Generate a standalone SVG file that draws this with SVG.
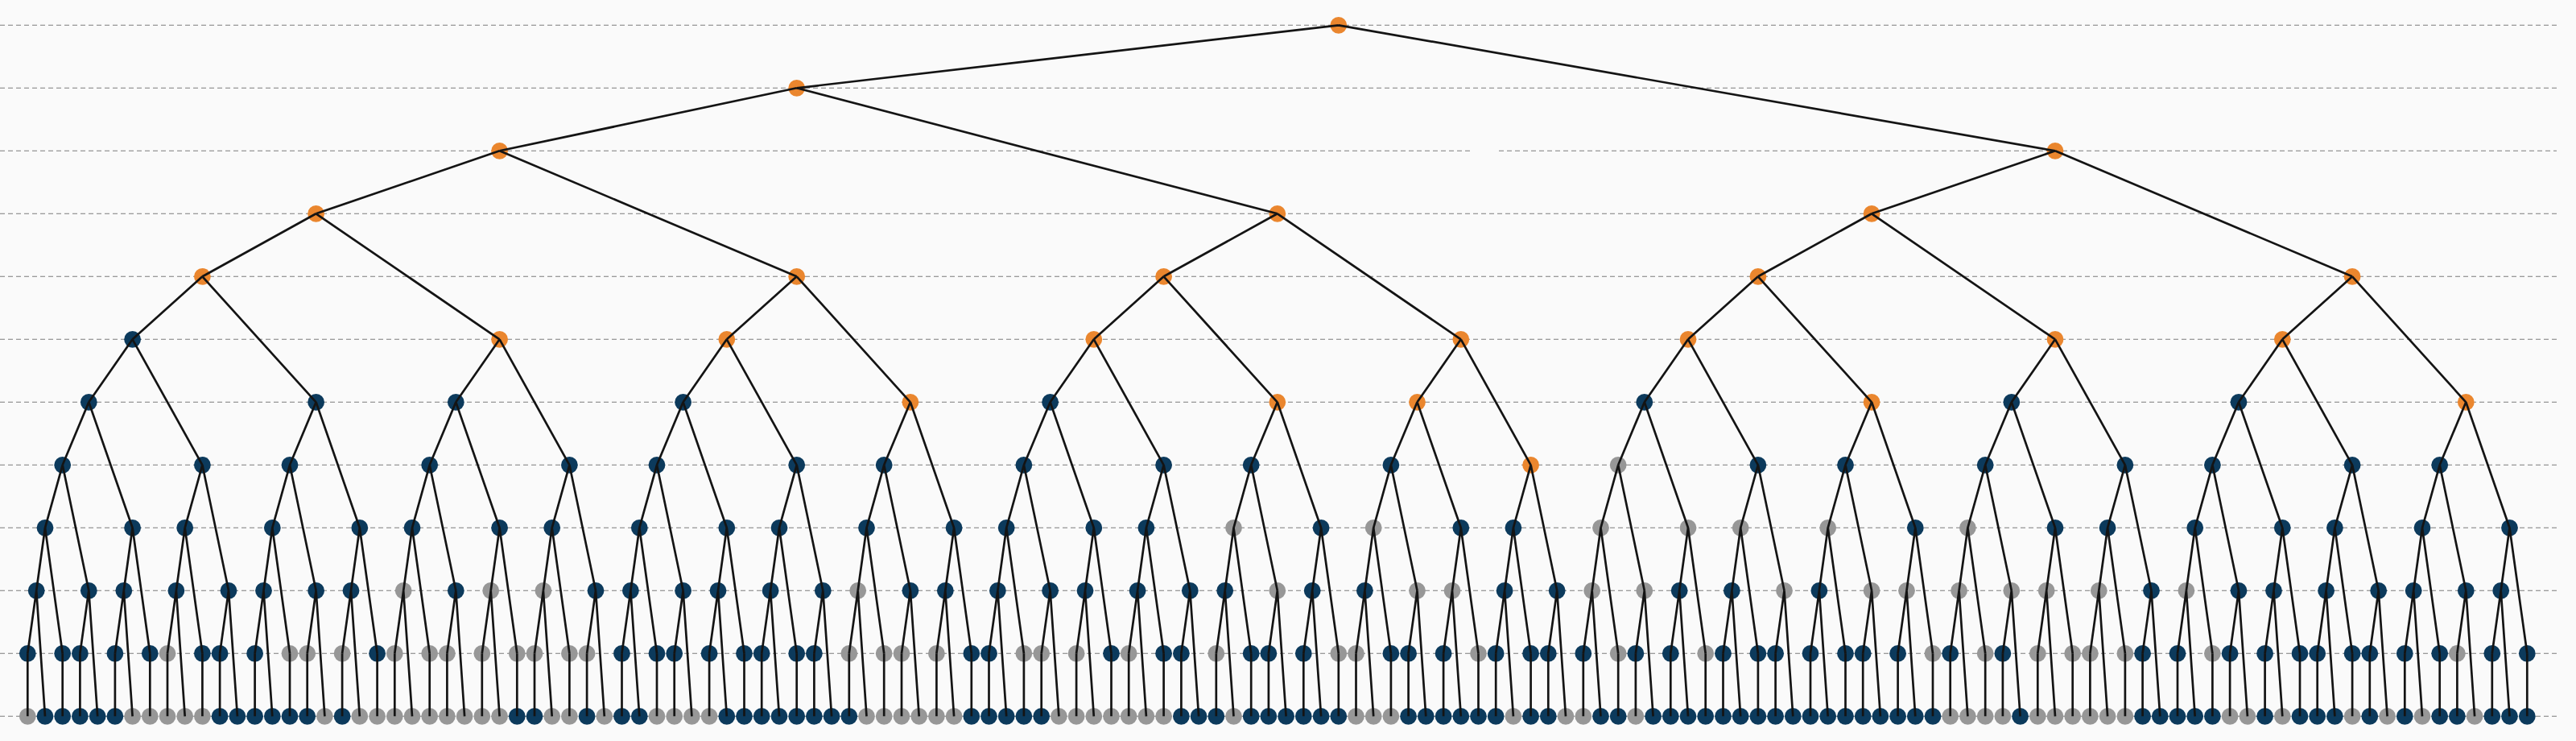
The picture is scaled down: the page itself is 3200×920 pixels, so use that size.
<svg xmlns="http://www.w3.org/2000/svg" width="3200" height="920" viewBox="0 0 3200 920">
<style>
.O{fill:#ea862e}.N{fill:#0c3a5c}.G{fill:#979797}
#grid line{stroke:#7c7c7c;stroke-width:1.1;stroke-dasharray:6 4}
#links path{stroke:#141414;stroke-width:2.7;fill:none}
</style>
<rect width="3200" height="920" fill="#fafafa"/>
<g id="grid">
<line x1="0" y1="31.3" x2="3176" y2="31.3"/>
<line x1="0" y1="109.3" x2="3176" y2="109.3"/>
<line x1="0" y1="187.3" x2="1826" y2="187.3"/>
<line x1="1862" y1="187.3" x2="3176" y2="187.3"/>
<line x1="0" y1="265.3" x2="3176" y2="265.3"/>
<line x1="0" y1="343.3" x2="3176" y2="343.3"/>
<line x1="0" y1="421.3" x2="3176" y2="421.3"/>
<line x1="0" y1="499.3" x2="3176" y2="499.3"/>
<line x1="0" y1="577.3" x2="3176" y2="577.3"/>
<line x1="0" y1="655.3" x2="3176" y2="655.3"/>
<line x1="0" y1="733.3" x2="3176" y2="733.3"/>
<line x1="0" y1="811.3" x2="3176" y2="811.3"/>
<line x1="0" y1="889.3" x2="3176" y2="889.3"/>
</g>
<g id="nodes">
<g id="n-root" class="O"><circle cx="1662.8" cy="31.3" r="10.4"/></g>
<g id="n-h10-0" class="O"><circle cx="989.7" cy="109.3" r="10.4"/></g>
<g id="n-h9-0" class="O"><circle cx="620.6" cy="187.3" r="10.4"/></g>
<g id="n-h9-89" class="O"><circle cx="2553" cy="187.3" r="10.4"/></g>
<g id="n-h8-0" class="O"><circle cx="392.6" cy="265.3" r="10.4"/></g>
<g id="n-h8-55" class="O"><circle cx="1586.8" cy="265.3" r="10.4"/></g>
<g id="n-h8-89" class="O"><circle cx="2325.1" cy="265.3" r="10.4"/></g>
<g id="n-h7-0" class="O"><circle cx="251.4" cy="343.3" r="10.4"/></g>
<g id="n-h7-34" class="O"><circle cx="989.7" cy="343.3" r="10.4"/></g>
<g id="n-h7-55" class="O"><circle cx="1445.6" cy="343.3" r="10.4"/></g>
<g id="n-h7-89" class="O"><circle cx="2183.9" cy="343.3" r="10.4"/></g>
<g id="n-h7-123" class="O"><circle cx="2922.1" cy="343.3" r="10.4"/></g>
<g id="n-h6-0" class="N"><circle cx="164.6" cy="421.3" r="10.4"/></g>
<g id="n-h6-21" class="O"><circle cx="620.6" cy="421.3" r="10.4"/></g>
<g id="n-h6-34" class="O"><circle cx="902.8" cy="421.3" r="10.4"/></g>
<g id="n-h6-55" class="O"><circle cx="1358.8" cy="421.3" r="10.4"/></g>
<g id="n-h6-76" class="O"><circle cx="1814.8" cy="421.3" r="10.4"/></g>
<g id="n-h6-89" class="O"><circle cx="2097" cy="421.3" r="10.4"/></g>
<g id="n-h6-110" class="O"><circle cx="2553" cy="421.3" r="10.4"/></g>
<g id="n-h6-123" class="O"><circle cx="2835.3" cy="421.3" r="10.4"/></g>
<g id="n-h5-0" class="N"><circle cx="110.3" cy="499.3" r="10.4"/></g>
<g id="n-h5-13" class="N"><circle cx="392.6" cy="499.3" r="10.4"/></g>
<g id="n-h5-21" class="N"><circle cx="566.3" cy="499.3" r="10.4"/></g>
<g id="n-h5-34" class="N"><circle cx="848.6" cy="499.3" r="10.4"/></g>
<g id="n-h5-47" class="O"><circle cx="1130.9" cy="499.3" r="10.4"/></g>
<g id="n-h5-55" class="N"><circle cx="1304.6" cy="499.3" r="10.4"/></g>
<g id="n-h5-68" class="O"><circle cx="1586.8" cy="499.3" r="10.4"/></g>
<g id="n-h5-76" class="O"><circle cx="1760.5" cy="499.3" r="10.4"/></g>
<g id="n-h5-89" class="N"><circle cx="2042.8" cy="499.3" r="10.4"/></g>
<g id="n-h5-102" class="O"><circle cx="2325.1" cy="499.3" r="10.4"/></g>
<g id="n-h5-110" class="N"><circle cx="2498.8" cy="499.3" r="10.4"/></g>
<g id="n-h5-123" class="N"><circle cx="2781" cy="499.3" r="10.4"/></g>
<g id="n-h5-136" class="O"><circle cx="3063.3" cy="499.3" r="10.4"/></g>
<g id="n-h4-0" class="N"><circle cx="77.7" cy="577.3" r="10.4"/></g>
<g id="n-h4-8" class="N"><circle cx="251.4" cy="577.3" r="10.4"/></g>
<g id="n-h4-13" class="N"><circle cx="360" cy="577.3" r="10.4"/></g>
<g id="n-h4-21" class="N"><circle cx="533.7" cy="577.3" r="10.4"/></g>
<g id="n-h4-29" class="N"><circle cx="707.4" cy="577.3" r="10.4"/></g>
<g id="n-h4-34" class="N"><circle cx="816" cy="577.3" r="10.4"/></g>
<g id="n-h4-42" class="N"><circle cx="989.7" cy="577.3" r="10.4"/></g>
<g id="n-h4-47" class="N"><circle cx="1098.2" cy="577.3" r="10.4"/></g>
<g id="n-h4-55" class="N"><circle cx="1271.9" cy="577.3" r="10.4"/></g>
<g id="n-h4-63" class="N"><circle cx="1445.6" cy="577.3" r="10.4"/></g>
<g id="n-h4-68" class="N"><circle cx="1554.2" cy="577.3" r="10.4"/></g>
<g id="n-h4-76" class="N"><circle cx="1727.9" cy="577.3" r="10.4"/></g>
<g id="n-h4-84" class="O"><circle cx="1901.6" cy="577.3" r="10.4"/></g>
<g id="n-h4-89" class="G"><circle cx="2010.2" cy="577.3" r="10.4"/></g>
<g id="n-h4-97" class="N"><circle cx="2183.9" cy="577.3" r="10.4"/></g>
<g id="n-h4-102" class="N"><circle cx="2292.5" cy="577.3" r="10.4"/></g>
<g id="n-h4-110" class="N"><circle cx="2466.2" cy="577.3" r="10.4"/></g>
<g id="n-h4-118" class="N"><circle cx="2639.9" cy="577.3" r="10.4"/></g>
<g id="n-h4-123" class="N"><circle cx="2748.4" cy="577.3" r="10.4"/></g>
<g id="n-h4-131" class="N"><circle cx="2922.1" cy="577.3" r="10.4"/></g>
<g id="n-h4-136" class="N"><circle cx="3030.7" cy="577.3" r="10.4"/></g>
<g id="n-h3-0" class="N"><circle cx="56" cy="655.3" r="10.4"/></g>
<g id="n-h3-5" class="N"><circle cx="164.6" cy="655.3" r="10.4"/></g>
<g id="n-h3-8" class="N"><circle cx="229.7" cy="655.3" r="10.4"/></g>
<g id="n-h3-13" class="N"><circle cx="338.3" cy="655.3" r="10.4"/></g>
<g id="n-h3-18" class="N"><circle cx="446.8" cy="655.3" r="10.4"/></g>
<g id="n-h3-21" class="N"><circle cx="512" cy="655.3" r="10.4"/></g>
<g id="n-h3-26" class="N"><circle cx="620.6" cy="655.3" r="10.4"/></g>
<g id="n-h3-29" class="N"><circle cx="685.7" cy="655.3" r="10.4"/></g>
<g id="n-h3-34" class="N"><circle cx="794.3" cy="655.3" r="10.4"/></g>
<g id="n-h3-39" class="N"><circle cx="902.8" cy="655.3" r="10.4"/></g>
<g id="n-h3-42" class="N"><circle cx="968" cy="655.3" r="10.4"/></g>
<g id="n-h3-47" class="N"><circle cx="1076.5" cy="655.3" r="10.4"/></g>
<g id="n-h3-52" class="N"><circle cx="1185.1" cy="655.3" r="10.4"/></g>
<g id="n-h3-55" class="N"><circle cx="1250.2" cy="655.3" r="10.4"/></g>
<g id="n-h3-60" class="N"><circle cx="1358.8" cy="655.3" r="10.4"/></g>
<g id="n-h3-63" class="N"><circle cx="1423.9" cy="655.3" r="10.4"/></g>
<g id="n-h3-68" class="G"><circle cx="1532.5" cy="655.3" r="10.4"/></g>
<g id="n-h3-73" class="N"><circle cx="1641.1" cy="655.3" r="10.4"/></g>
<g id="n-h3-76" class="G"><circle cx="1706.2" cy="655.3" r="10.4"/></g>
<g id="n-h3-81" class="N"><circle cx="1814.8" cy="655.3" r="10.4"/></g>
<g id="n-h3-84" class="N"><circle cx="1879.9" cy="655.3" r="10.4"/></g>
<g id="n-h3-89" class="G"><circle cx="1988.5" cy="655.3" r="10.4"/></g>
<g id="n-h3-94" class="G"><circle cx="2097" cy="655.3" r="10.4"/></g>
<g id="n-h3-97" class="G"><circle cx="2162.2" cy="655.3" r="10.4"/></g>
<g id="n-h3-102" class="G"><circle cx="2270.7" cy="655.3" r="10.4"/></g>
<g id="n-h3-107" class="N"><circle cx="2379.3" cy="655.3" r="10.4"/></g>
<g id="n-h3-110" class="G"><circle cx="2444.4" cy="655.3" r="10.4"/></g>
<g id="n-h3-115" class="N"><circle cx="2553" cy="655.3" r="10.4"/></g>
<g id="n-h3-118" class="N"><circle cx="2618.1" cy="655.3" r="10.4"/></g>
<g id="n-h3-123" class="N"><circle cx="2726.7" cy="655.3" r="10.4"/></g>
<g id="n-h3-128" class="N"><circle cx="2835.3" cy="655.3" r="10.4"/></g>
<g id="n-h3-131" class="N"><circle cx="2900.4" cy="655.3" r="10.4"/></g>
<g id="n-h3-136" class="N"><circle cx="3009" cy="655.3" r="10.4"/></g>
<g id="n-h3-141" class="N"><circle cx="3117.5" cy="655.3" r="10.4"/></g>
<g id="n-h2-0" class="N"><circle cx="45.2" cy="733.3" r="10.4"/></g>
<g id="n-h2-3" class="N"><circle cx="110.3" cy="733.3" r="10.4"/></g>
<g id="n-h2-5" class="N"><circle cx="153.8" cy="733.3" r="10.4"/></g>
<g id="n-h2-8" class="N"><circle cx="218.9" cy="733.3" r="10.4"/></g>
<g id="n-h2-11" class="N"><circle cx="284" cy="733.3" r="10.4"/></g>
<g id="n-h2-13" class="N"><circle cx="327.5" cy="733.3" r="10.4"/></g>
<g id="n-h2-16" class="N"><circle cx="392.6" cy="733.3" r="10.4"/></g>
<g id="n-h2-18" class="N"><circle cx="436" cy="733.3" r="10.4"/></g>
<g id="n-h2-21" class="G"><circle cx="501.2" cy="733.3" r="10.4"/></g>
<g id="n-h2-24" class="N"><circle cx="566.3" cy="733.3" r="10.4"/></g>
<g id="n-h2-26" class="G"><circle cx="609.7" cy="733.3" r="10.4"/></g>
<g id="n-h2-29" class="G"><circle cx="674.9" cy="733.3" r="10.4"/></g>
<g id="n-h2-32" class="N"><circle cx="740" cy="733.3" r="10.4"/></g>
<g id="n-h2-34" class="N"><circle cx="783.4" cy="733.3" r="10.4"/></g>
<g id="n-h2-37" class="N"><circle cx="848.6" cy="733.3" r="10.4"/></g>
<g id="n-h2-39" class="N"><circle cx="892" cy="733.3" r="10.4"/></g>
<g id="n-h2-42" class="N"><circle cx="957.1" cy="733.3" r="10.4"/></g>
<g id="n-h2-45" class="N"><circle cx="1022.3" cy="733.3" r="10.4"/></g>
<g id="n-h2-47" class="G"><circle cx="1065.7" cy="733.3" r="10.4"/></g>
<g id="n-h2-50" class="N"><circle cx="1130.9" cy="733.3" r="10.4"/></g>
<g id="n-h2-52" class="N"><circle cx="1174.3" cy="733.3" r="10.4"/></g>
<g id="n-h2-55" class="N"><circle cx="1239.4" cy="733.3" r="10.4"/></g>
<g id="n-h2-58" class="N"><circle cx="1304.6" cy="733.3" r="10.4"/></g>
<g id="n-h2-60" class="N"><circle cx="1348" cy="733.3" r="10.4"/></g>
<g id="n-h2-63" class="N"><circle cx="1413.1" cy="733.3" r="10.4"/></g>
<g id="n-h2-66" class="N"><circle cx="1478.3" cy="733.3" r="10.4"/></g>
<g id="n-h2-68" class="N"><circle cx="1521.7" cy="733.3" r="10.4"/></g>
<g id="n-h2-71" class="G"><circle cx="1586.8" cy="733.3" r="10.4"/></g>
<g id="n-h2-73" class="N"><circle cx="1630.2" cy="733.3" r="10.4"/></g>
<g id="n-h2-76" class="N"><circle cx="1695.4" cy="733.3" r="10.4"/></g>
<g id="n-h2-79" class="G"><circle cx="1760.5" cy="733.3" r="10.4"/></g>
<g id="n-h2-81" class="G"><circle cx="1804" cy="733.3" r="10.4"/></g>
<g id="n-h2-84" class="N"><circle cx="1869.1" cy="733.3" r="10.4"/></g>
<g id="n-h2-87" class="N"><circle cx="1934.2" cy="733.3" r="10.4"/></g>
<g id="n-h2-89" class="G"><circle cx="1977.7" cy="733.3" r="10.4"/></g>
<g id="n-h2-92" class="G"><circle cx="2042.8" cy="733.3" r="10.4"/></g>
<g id="n-h2-94" class="N"><circle cx="2086.2" cy="733.3" r="10.4"/></g>
<g id="n-h2-97" class="N"><circle cx="2151.4" cy="733.3" r="10.4"/></g>
<g id="n-h2-100" class="G"><circle cx="2216.5" cy="733.3" r="10.4"/></g>
<g id="n-h2-102" class="N"><circle cx="2259.9" cy="733.3" r="10.4"/></g>
<g id="n-h2-105" class="G"><circle cx="2325.1" cy="733.3" r="10.4"/></g>
<g id="n-h2-107" class="G"><circle cx="2368.5" cy="733.3" r="10.4"/></g>
<g id="n-h2-110" class="G"><circle cx="2433.6" cy="733.3" r="10.4"/></g>
<g id="n-h2-113" class="G"><circle cx="2498.8" cy="733.3" r="10.4"/></g>
<g id="n-h2-115" class="G"><circle cx="2542.2" cy="733.3" r="10.4"/></g>
<g id="n-h2-118" class="G"><circle cx="2607.3" cy="733.3" r="10.4"/></g>
<g id="n-h2-121" class="N"><circle cx="2672.5" cy="733.3" r="10.4"/></g>
<g id="n-h2-123" class="G"><circle cx="2715.9" cy="733.3" r="10.4"/></g>
<g id="n-h2-126" class="N"><circle cx="2781" cy="733.3" r="10.4"/></g>
<g id="n-h2-128" class="N"><circle cx="2824.5" cy="733.3" r="10.4"/></g>
<g id="n-h2-131" class="N"><circle cx="2889.6" cy="733.3" r="10.4"/></g>
<g id="n-h2-134" class="N"><circle cx="2954.7" cy="733.3" r="10.4"/></g>
<g id="n-h2-136" class="N"><circle cx="2998.2" cy="733.3" r="10.4"/></g>
<g id="n-h2-139" class="N"><circle cx="3063.3" cy="733.3" r="10.4"/></g>
<g id="n-h2-141" class="N"><circle cx="3106.7" cy="733.3" r="10.4"/></g>
<g id="n-h1-0" class="N"><circle cx="34.3" cy="811.3" r="10.4"/></g>
<g id="n-h1-2" class="N"><circle cx="77.7" cy="811.3" r="10.4"/></g>
<g id="n-h1-3" class="N"><circle cx="99.4" cy="811.3" r="10.4"/></g>
<g id="n-h1-5" class="N"><circle cx="142.9" cy="811.3" r="10.4"/></g>
<g id="n-h1-7" class="N"><circle cx="186.3" cy="811.3" r="10.4"/></g>
<g id="n-h1-8" class="G"><circle cx="208" cy="811.3" r="10.4"/></g>
<g id="n-h1-10" class="N"><circle cx="251.4" cy="811.3" r="10.4"/></g>
<g id="n-h1-11" class="N"><circle cx="273.1" cy="811.3" r="10.4"/></g>
<g id="n-h1-13" class="N"><circle cx="316.6" cy="811.3" r="10.4"/></g>
<g id="n-h1-15" class="G"><circle cx="360" cy="811.3" r="10.4"/></g>
<g id="n-h1-16" class="G"><circle cx="381.7" cy="811.3" r="10.4"/></g>
<g id="n-h1-18" class="G"><circle cx="425.1" cy="811.3" r="10.4"/></g>
<g id="n-h1-20" class="N"><circle cx="468.6" cy="811.3" r="10.4"/></g>
<g id="n-h1-21" class="G"><circle cx="490.3" cy="811.3" r="10.4"/></g>
<g id="n-h1-23" class="G"><circle cx="533.7" cy="811.3" r="10.4"/></g>
<g id="n-h1-24" class="G"><circle cx="555.4" cy="811.3" r="10.4"/></g>
<g id="n-h1-26" class="G"><circle cx="598.8" cy="811.3" r="10.4"/></g>
<g id="n-h1-28" class="G"><circle cx="642.3" cy="811.3" r="10.4"/></g>
<g id="n-h1-29" class="G"><circle cx="664" cy="811.3" r="10.4"/></g>
<g id="n-h1-31" class="G"><circle cx="707.4" cy="811.3" r="10.4"/></g>
<g id="n-h1-32" class="G"><circle cx="729.1" cy="811.3" r="10.4"/></g>
<g id="n-h1-34" class="N"><circle cx="772.5" cy="811.3" r="10.4"/></g>
<g id="n-h1-36" class="N"><circle cx="816" cy="811.3" r="10.4"/></g>
<g id="n-h1-37" class="N"><circle cx="837.7" cy="811.3" r="10.4"/></g>
<g id="n-h1-39" class="N"><circle cx="881.1" cy="811.3" r="10.4"/></g>
<g id="n-h1-41" class="N"><circle cx="924.5" cy="811.3" r="10.4"/></g>
<g id="n-h1-42" class="N"><circle cx="946.2" cy="811.3" r="10.4"/></g>
<g id="n-h1-44" class="N"><circle cx="989.7" cy="811.3" r="10.4"/></g>
<g id="n-h1-45" class="N"><circle cx="1011.4" cy="811.3" r="10.4"/></g>
<g id="n-h1-47" class="G"><circle cx="1054.8" cy="811.3" r="10.4"/></g>
<g id="n-h1-49" class="G"><circle cx="1098.2" cy="811.3" r="10.4"/></g>
<g id="n-h1-50" class="G"><circle cx="1120" cy="811.3" r="10.4"/></g>
<g id="n-h1-52" class="G"><circle cx="1163.4" cy="811.3" r="10.4"/></g>
<g id="n-h1-54" class="N"><circle cx="1206.8" cy="811.3" r="10.4"/></g>
<g id="n-h1-55" class="N"><circle cx="1228.5" cy="811.3" r="10.4"/></g>
<g id="n-h1-57" class="G"><circle cx="1271.9" cy="811.3" r="10.4"/></g>
<g id="n-h1-58" class="G"><circle cx="1293.7" cy="811.3" r="10.4"/></g>
<g id="n-h1-60" class="G"><circle cx="1337.1" cy="811.3" r="10.4"/></g>
<g id="n-h1-62" class="N"><circle cx="1380.5" cy="811.3" r="10.4"/></g>
<g id="n-h1-63" class="G"><circle cx="1402.2" cy="811.3" r="10.4"/></g>
<g id="n-h1-65" class="N"><circle cx="1445.6" cy="811.3" r="10.4"/></g>
<g id="n-h1-66" class="N"><circle cx="1467.4" cy="811.3" r="10.4"/></g>
<g id="n-h1-68" class="G"><circle cx="1510.8" cy="811.3" r="10.4"/></g>
<g id="n-h1-70" class="N"><circle cx="1554.2" cy="811.3" r="10.4"/></g>
<g id="n-h1-71" class="N"><circle cx="1575.9" cy="811.3" r="10.4"/></g>
<g id="n-h1-73" class="N"><circle cx="1619.3" cy="811.3" r="10.4"/></g>
<g id="n-h1-75" class="G"><circle cx="1662.8" cy="811.3" r="10.4"/></g>
<g id="n-h1-76" class="G"><circle cx="1684.5" cy="811.3" r="10.4"/></g>
<g id="n-h1-78" class="N"><circle cx="1727.9" cy="811.3" r="10.4"/></g>
<g id="n-h1-79" class="N"><circle cx="1749.6" cy="811.3" r="10.4"/></g>
<g id="n-h1-81" class="N"><circle cx="1793.1" cy="811.3" r="10.4"/></g>
<g id="n-h1-83" class="G"><circle cx="1836.5" cy="811.3" r="10.4"/></g>
<g id="n-h1-84" class="N"><circle cx="1858.2" cy="811.3" r="10.4"/></g>
<g id="n-h1-86" class="N"><circle cx="1901.6" cy="811.3" r="10.4"/></g>
<g id="n-h1-87" class="N"><circle cx="1923.3" cy="811.3" r="10.4"/></g>
<g id="n-h1-89" class="N"><circle cx="1966.8" cy="811.3" r="10.4"/></g>
<g id="n-h1-91" class="G"><circle cx="2010.2" cy="811.3" r="10.4"/></g>
<g id="n-h1-92" class="N"><circle cx="2031.9" cy="811.3" r="10.4"/></g>
<g id="n-h1-94" class="N"><circle cx="2075.3" cy="811.3" r="10.4"/></g>
<g id="n-h1-96" class="G"><circle cx="2118.7" cy="811.3" r="10.4"/></g>
<g id="n-h1-97" class="N"><circle cx="2140.5" cy="811.3" r="10.4"/></g>
<g id="n-h1-99" class="N"><circle cx="2183.9" cy="811.3" r="10.4"/></g>
<g id="n-h1-100" class="N"><circle cx="2205.6" cy="811.3" r="10.4"/></g>
<g id="n-h1-102" class="N"><circle cx="2249" cy="811.3" r="10.4"/></g>
<g id="n-h1-104" class="N"><circle cx="2292.5" cy="811.3" r="10.4"/></g>
<g id="n-h1-105" class="N"><circle cx="2314.2" cy="811.3" r="10.4"/></g>
<g id="n-h1-107" class="N"><circle cx="2357.6" cy="811.3" r="10.4"/></g>
<g id="n-h1-109" class="G"><circle cx="2401" cy="811.3" r="10.4"/></g>
<g id="n-h1-110" class="N"><circle cx="2422.7" cy="811.3" r="10.4"/></g>
<g id="n-h1-112" class="G"><circle cx="2466.2" cy="811.3" r="10.4"/></g>
<g id="n-h1-113" class="N"><circle cx="2487.9" cy="811.3" r="10.4"/></g>
<g id="n-h1-115" class="G"><circle cx="2531.3" cy="811.3" r="10.4"/></g>
<g id="n-h1-117" class="G"><circle cx="2574.7" cy="811.3" r="10.4"/></g>
<g id="n-h1-118" class="G"><circle cx="2596.4" cy="811.3" r="10.4"/></g>
<g id="n-h1-120" class="G"><circle cx="2639.9" cy="811.3" r="10.4"/></g>
<g id="n-h1-121" class="N"><circle cx="2661.6" cy="811.3" r="10.4"/></g>
<g id="n-h1-123" class="N"><circle cx="2705" cy="811.3" r="10.4"/></g>
<g id="n-h1-125" class="G"><circle cx="2748.4" cy="811.3" r="10.4"/></g>
<g id="n-h1-126" class="N"><circle cx="2770.1" cy="811.3" r="10.4"/></g>
<g id="n-h1-128" class="N"><circle cx="2813.6" cy="811.3" r="10.4"/></g>
<g id="n-h1-130" class="N"><circle cx="2857" cy="811.3" r="10.4"/></g>
<g id="n-h1-131" class="N"><circle cx="2878.7" cy="811.3" r="10.4"/></g>
<g id="n-h1-133" class="N"><circle cx="2922.1" cy="811.3" r="10.4"/></g>
<g id="n-h1-134" class="N"><circle cx="2943.8" cy="811.3" r="10.4"/></g>
<g id="n-h1-136" class="N"><circle cx="2987.3" cy="811.3" r="10.4"/></g>
<g id="n-h1-138" class="N"><circle cx="3030.7" cy="811.3" r="10.4"/></g>
<g id="n-h1-139" class="G"><circle cx="3052.4" cy="811.3" r="10.4"/></g>
<g id="n-h1-141" class="N"><circle cx="3095.8" cy="811.3" r="10.4"/></g>
<g id="n-h1-143" class="N"><circle cx="3139.3" cy="811.3" r="10.4"/></g>
<g id="n-leaf-0" class="G"><circle cx="34.3" cy="889.3" r="10.4"/></g>
<g id="n-leaf-1" class="N"><circle cx="56" cy="889.3" r="10.4"/></g>
<g id="n-leaf-2" class="N"><circle cx="77.7" cy="889.3" r="10.4"/></g>
<g id="n-leaf-3" class="N"><circle cx="99.4" cy="889.3" r="10.4"/></g>
<g id="n-leaf-4" class="N"><circle cx="121.2" cy="889.3" r="10.4"/></g>
<g id="n-leaf-5" class="N"><circle cx="142.9" cy="889.3" r="10.4"/></g>
<g id="n-leaf-6" class="G"><circle cx="164.6" cy="889.3" r="10.4"/></g>
<g id="n-leaf-7" class="G"><circle cx="186.3" cy="889.3" r="10.4"/></g>
<g id="n-leaf-8" class="G"><circle cx="208" cy="889.3" r="10.4"/></g>
<g id="n-leaf-9" class="G"><circle cx="229.7" cy="889.3" r="10.4"/></g>
<g id="n-leaf-10" class="G"><circle cx="251.4" cy="889.3" r="10.4"/></g>
<g id="n-leaf-11" class="N"><circle cx="273.1" cy="889.3" r="10.4"/></g>
<g id="n-leaf-12" class="N"><circle cx="294.9" cy="889.3" r="10.4"/></g>
<g id="n-leaf-13" class="N"><circle cx="316.6" cy="889.3" r="10.4"/></g>
<g id="n-leaf-14" class="N"><circle cx="338.3" cy="889.3" r="10.4"/></g>
<g id="n-leaf-15" class="N"><circle cx="360" cy="889.3" r="10.4"/></g>
<g id="n-leaf-16" class="N"><circle cx="381.7" cy="889.3" r="10.4"/></g>
<g id="n-leaf-17" class="G"><circle cx="403.4" cy="889.3" r="10.4"/></g>
<g id="n-leaf-18" class="N"><circle cx="425.1" cy="889.3" r="10.4"/></g>
<g id="n-leaf-19" class="G"><circle cx="446.8" cy="889.3" r="10.4"/></g>
<g id="n-leaf-20" class="G"><circle cx="468.6" cy="889.3" r="10.4"/></g>
<g id="n-leaf-21" class="G"><circle cx="490.3" cy="889.3" r="10.4"/></g>
<g id="n-leaf-22" class="G"><circle cx="512" cy="889.3" r="10.4"/></g>
<g id="n-leaf-23" class="G"><circle cx="533.7" cy="889.3" r="10.4"/></g>
<g id="n-leaf-24" class="G"><circle cx="555.4" cy="889.3" r="10.4"/></g>
<g id="n-leaf-25" class="G"><circle cx="577.1" cy="889.3" r="10.4"/></g>
<g id="n-leaf-26" class="G"><circle cx="598.8" cy="889.3" r="10.4"/></g>
<g id="n-leaf-27" class="G"><circle cx="620.6" cy="889.3" r="10.4"/></g>
<g id="n-leaf-28" class="N"><circle cx="642.3" cy="889.3" r="10.4"/></g>
<g id="n-leaf-29" class="N"><circle cx="664" cy="889.3" r="10.4"/></g>
<g id="n-leaf-30" class="G"><circle cx="685.7" cy="889.3" r="10.4"/></g>
<g id="n-leaf-31" class="G"><circle cx="707.4" cy="889.3" r="10.4"/></g>
<g id="n-leaf-32" class="N"><circle cx="729.1" cy="889.3" r="10.4"/></g>
<g id="n-leaf-33" class="G"><circle cx="750.8" cy="889.3" r="10.4"/></g>
<g id="n-leaf-34" class="N"><circle cx="772.5" cy="889.3" r="10.4"/></g>
<g id="n-leaf-35" class="N"><circle cx="794.3" cy="889.3" r="10.4"/></g>
<g id="n-leaf-36" class="G"><circle cx="816" cy="889.3" r="10.4"/></g>
<g id="n-leaf-37" class="G"><circle cx="837.7" cy="889.3" r="10.4"/></g>
<g id="n-leaf-38" class="G"><circle cx="859.4" cy="889.3" r="10.4"/></g>
<g id="n-leaf-39" class="G"><circle cx="881.1" cy="889.3" r="10.4"/></g>
<g id="n-leaf-40" class="N"><circle cx="902.8" cy="889.3" r="10.4"/></g>
<g id="n-leaf-41" class="N"><circle cx="924.5" cy="889.3" r="10.4"/></g>
<g id="n-leaf-42" class="N"><circle cx="946.2" cy="889.3" r="10.4"/></g>
<g id="n-leaf-43" class="N"><circle cx="968" cy="889.3" r="10.4"/></g>
<g id="n-leaf-44" class="N"><circle cx="989.7" cy="889.3" r="10.4"/></g>
<g id="n-leaf-45" class="N"><circle cx="1011.4" cy="889.3" r="10.4"/></g>
<g id="n-leaf-46" class="N"><circle cx="1033.1" cy="889.3" r="10.4"/></g>
<g id="n-leaf-47" class="N"><circle cx="1054.8" cy="889.3" r="10.4"/></g>
<g id="n-leaf-48" class="G"><circle cx="1076.5" cy="889.3" r="10.4"/></g>
<g id="n-leaf-49" class="G"><circle cx="1098.2" cy="889.3" r="10.4"/></g>
<g id="n-leaf-50" class="G"><circle cx="1120" cy="889.3" r="10.4"/></g>
<g id="n-leaf-51" class="G"><circle cx="1141.7" cy="889.3" r="10.4"/></g>
<g id="n-leaf-52" class="G"><circle cx="1163.4" cy="889.3" r="10.4"/></g>
<g id="n-leaf-53" class="G"><circle cx="1185.1" cy="889.3" r="10.4"/></g>
<g id="n-leaf-54" class="N"><circle cx="1206.8" cy="889.3" r="10.4"/></g>
<g id="n-leaf-55" class="N"><circle cx="1228.5" cy="889.3" r="10.4"/></g>
<g id="n-leaf-56" class="N"><circle cx="1250.2" cy="889.3" r="10.4"/></g>
<g id="n-leaf-57" class="N"><circle cx="1271.9" cy="889.3" r="10.4"/></g>
<g id="n-leaf-58" class="N"><circle cx="1293.7" cy="889.3" r="10.4"/></g>
<g id="n-leaf-59" class="G"><circle cx="1315.4" cy="889.3" r="10.4"/></g>
<g id="n-leaf-60" class="G"><circle cx="1337.1" cy="889.3" r="10.4"/></g>
<g id="n-leaf-61" class="G"><circle cx="1358.8" cy="889.3" r="10.4"/></g>
<g id="n-leaf-62" class="G"><circle cx="1380.5" cy="889.3" r="10.4"/></g>
<g id="n-leaf-63" class="G"><circle cx="1402.2" cy="889.3" r="10.4"/></g>
<g id="n-leaf-64" class="G"><circle cx="1423.9" cy="889.3" r="10.4"/></g>
<g id="n-leaf-65" class="G"><circle cx="1445.6" cy="889.3" r="10.4"/></g>
<g id="n-leaf-66" class="N"><circle cx="1467.4" cy="889.3" r="10.4"/></g>
<g id="n-leaf-67" class="N"><circle cx="1489.1" cy="889.3" r="10.4"/></g>
<g id="n-leaf-68" class="N"><circle cx="1510.8" cy="889.3" r="10.4"/></g>
<g id="n-leaf-69" class="G"><circle cx="1532.5" cy="889.3" r="10.4"/></g>
<g id="n-leaf-70" class="N"><circle cx="1554.2" cy="889.3" r="10.4"/></g>
<g id="n-leaf-71" class="N"><circle cx="1575.9" cy="889.3" r="10.4"/></g>
<g id="n-leaf-72" class="N"><circle cx="1597.6" cy="889.3" r="10.4"/></g>
<g id="n-leaf-73" class="N"><circle cx="1619.3" cy="889.3" r="10.4"/></g>
<g id="n-leaf-74" class="N"><circle cx="1641.1" cy="889.3" r="10.4"/></g>
<g id="n-leaf-75" class="N"><circle cx="1662.8" cy="889.3" r="10.4"/></g>
<g id="n-leaf-76" class="G"><circle cx="1684.5" cy="889.3" r="10.4"/></g>
<g id="n-leaf-77" class="G"><circle cx="1706.2" cy="889.3" r="10.4"/></g>
<g id="n-leaf-78" class="G"><circle cx="1727.9" cy="889.3" r="10.4"/></g>
<g id="n-leaf-79" class="N"><circle cx="1749.6" cy="889.3" r="10.4"/></g>
<g id="n-leaf-80" class="N"><circle cx="1771.3" cy="889.3" r="10.4"/></g>
<g id="n-leaf-81" class="N"><circle cx="1793.1" cy="889.3" r="10.4"/></g>
<g id="n-leaf-82" class="N"><circle cx="1814.8" cy="889.3" r="10.4"/></g>
<g id="n-leaf-83" class="N"><circle cx="1836.5" cy="889.3" r="10.4"/></g>
<g id="n-leaf-84" class="N"><circle cx="1858.2" cy="889.3" r="10.4"/></g>
<g id="n-leaf-85" class="G"><circle cx="1879.9" cy="889.3" r="10.4"/></g>
<g id="n-leaf-86" class="N"><circle cx="1901.6" cy="889.3" r="10.4"/></g>
<g id="n-leaf-87" class="N"><circle cx="1923.3" cy="889.3" r="10.4"/></g>
<g id="n-leaf-88" class="G"><circle cx="1945" cy="889.3" r="10.4"/></g>
<g id="n-leaf-89" class="G"><circle cx="1966.8" cy="889.3" r="10.4"/></g>
<g id="n-leaf-90" class="N"><circle cx="1988.5" cy="889.3" r="10.4"/></g>
<g id="n-leaf-91" class="N"><circle cx="2010.2" cy="889.3" r="10.4"/></g>
<g id="n-leaf-92" class="G"><circle cx="2031.9" cy="889.3" r="10.4"/></g>
<g id="n-leaf-93" class="N"><circle cx="2053.6" cy="889.3" r="10.4"/></g>
<g id="n-leaf-94" class="N"><circle cx="2075.3" cy="889.3" r="10.4"/></g>
<g id="n-leaf-95" class="N"><circle cx="2097" cy="889.3" r="10.4"/></g>
<g id="n-leaf-96" class="N"><circle cx="2118.7" cy="889.3" r="10.4"/></g>
<g id="n-leaf-97" class="N"><circle cx="2140.5" cy="889.3" r="10.4"/></g>
<g id="n-leaf-98" class="N"><circle cx="2162.2" cy="889.3" r="10.4"/></g>
<g id="n-leaf-99" class="N"><circle cx="2183.9" cy="889.3" r="10.4"/></g>
<g id="n-leaf-100" class="N"><circle cx="2205.6" cy="889.3" r="10.4"/></g>
<g id="n-leaf-101" class="N"><circle cx="2227.3" cy="889.3" r="10.4"/></g>
<g id="n-leaf-102" class="N"><circle cx="2249" cy="889.3" r="10.4"/></g>
<g id="n-leaf-103" class="N"><circle cx="2270.7" cy="889.3" r="10.4"/></g>
<g id="n-leaf-104" class="N"><circle cx="2292.5" cy="889.3" r="10.4"/></g>
<g id="n-leaf-105" class="N"><circle cx="2314.2" cy="889.3" r="10.4"/></g>
<g id="n-leaf-106" class="N"><circle cx="2335.9" cy="889.3" r="10.4"/></g>
<g id="n-leaf-107" class="N"><circle cx="2357.6" cy="889.3" r="10.4"/></g>
<g id="n-leaf-108" class="N"><circle cx="2379.3" cy="889.3" r="10.4"/></g>
<g id="n-leaf-109" class="N"><circle cx="2401" cy="889.3" r="10.4"/></g>
<g id="n-leaf-110" class="G"><circle cx="2422.7" cy="889.3" r="10.4"/></g>
<g id="n-leaf-111" class="G"><circle cx="2444.4" cy="889.3" r="10.4"/></g>
<g id="n-leaf-112" class="G"><circle cx="2466.2" cy="889.3" r="10.4"/></g>
<g id="n-leaf-113" class="G"><circle cx="2487.9" cy="889.3" r="10.4"/></g>
<g id="n-leaf-114" class="N"><circle cx="2509.6" cy="889.3" r="10.4"/></g>
<g id="n-leaf-115" class="G"><circle cx="2531.3" cy="889.3" r="10.4"/></g>
<g id="n-leaf-116" class="G"><circle cx="2553" cy="889.3" r="10.4"/></g>
<g id="n-leaf-117" class="G"><circle cx="2574.7" cy="889.3" r="10.4"/></g>
<g id="n-leaf-118" class="G"><circle cx="2596.4" cy="889.3" r="10.4"/></g>
<g id="n-leaf-119" class="G"><circle cx="2618.1" cy="889.3" r="10.4"/></g>
<g id="n-leaf-120" class="G"><circle cx="2639.9" cy="889.3" r="10.4"/></g>
<g id="n-leaf-121" class="N"><circle cx="2661.6" cy="889.3" r="10.4"/></g>
<g id="n-leaf-122" class="N"><circle cx="2683.3" cy="889.3" r="10.4"/></g>
<g id="n-leaf-123" class="N"><circle cx="2705" cy="889.3" r="10.4"/></g>
<g id="n-leaf-124" class="N"><circle cx="2726.7" cy="889.3" r="10.4"/></g>
<g id="n-leaf-125" class="N"><circle cx="2748.4" cy="889.3" r="10.4"/></g>
<g id="n-leaf-126" class="G"><circle cx="2770.1" cy="889.3" r="10.4"/></g>
<g id="n-leaf-127" class="G"><circle cx="2791.9" cy="889.3" r="10.4"/></g>
<g id="n-leaf-128" class="N"><circle cx="2813.6" cy="889.3" r="10.4"/></g>
<g id="n-leaf-129" class="G"><circle cx="2835.3" cy="889.3" r="10.4"/></g>
<g id="n-leaf-130" class="N"><circle cx="2857" cy="889.3" r="10.4"/></g>
<g id="n-leaf-131" class="N"><circle cx="2878.7" cy="889.3" r="10.4"/></g>
<g id="n-leaf-132" class="N"><circle cx="2900.4" cy="889.3" r="10.4"/></g>
<g id="n-leaf-133" class="G"><circle cx="2922.1" cy="889.3" r="10.4"/></g>
<g id="n-leaf-134" class="N"><circle cx="2943.8" cy="889.3" r="10.4"/></g>
<g id="n-leaf-135" class="G"><circle cx="2965.6" cy="889.3" r="10.4"/></g>
<g id="n-leaf-136" class="N"><circle cx="2987.3" cy="889.3" r="10.4"/></g>
<g id="n-leaf-137" class="G"><circle cx="3009" cy="889.3" r="10.4"/></g>
<g id="n-leaf-138" class="N"><circle cx="3030.7" cy="889.3" r="10.4"/></g>
<g id="n-leaf-139" class="N"><circle cx="3052.4" cy="889.3" r="10.4"/></g>
<g id="n-leaf-140" class="G"><circle cx="3074.1" cy="889.3" r="10.4"/></g>
<g id="n-leaf-141" class="N"><circle cx="3095.8" cy="889.3" r="10.4"/></g>
<g id="n-leaf-142" class="N"><circle cx="3117.5" cy="889.3" r="10.4"/></g>
<g id="n-leaf-143" class="N"><circle cx="3139.3" cy="889.3" r="10.4"/></g>
</g>
<g id="links">
<path d="M1662.8 31.3L989.7 109.3M1662.8 31.3L2553 187.3"/>
<path d="M989.7 109.3L620.6 187.3M989.7 109.3L1586.8 265.3"/>
<path d="M620.6 187.3L392.6 265.3M620.6 187.3L989.7 343.3"/>
<path d="M2553 187.3L2325.1 265.3M2553 187.3L2922.1 343.3"/>
<path d="M392.6 265.3L251.4 343.3M392.6 265.3L620.6 421.3"/>
<path d="M1586.8 265.3L1445.6 343.3M1586.8 265.3L1814.8 421.3"/>
<path d="M2325.1 265.3L2183.9 343.3M2325.1 265.3L2553 421.3"/>
<path d="M251.4 343.3L164.6 421.3M251.4 343.3L392.6 499.3"/>
<path d="M989.7 343.3L902.8 421.3M989.7 343.3L1130.9 499.3"/>
<path d="M1445.6 343.3L1358.8 421.3M1445.6 343.3L1586.8 499.3"/>
<path d="M2183.9 343.3L2097 421.3M2183.9 343.3L2325.1 499.3"/>
<path d="M2922.1 343.3L2835.3 421.3M2922.1 343.3L3063.3 499.3"/>
<path d="M164.6 421.3L110.3 499.3M164.6 421.3L251.4 577.3"/>
<path d="M620.6 421.3L566.3 499.3M620.6 421.3L707.4 577.3"/>
<path d="M902.8 421.3L848.6 499.3M902.8 421.3L989.7 577.3"/>
<path d="M1358.8 421.3L1304.6 499.3M1358.8 421.3L1445.6 577.3"/>
<path d="M1814.8 421.3L1760.5 499.3M1814.8 421.3L1901.6 577.3"/>
<path d="M2097 421.3L2042.8 499.3M2097 421.3L2183.9 577.3"/>
<path d="M2553 421.3L2498.8 499.3M2553 421.3L2639.9 577.3"/>
<path d="M2835.3 421.3L2781 499.3M2835.3 421.3L2922.1 577.3"/>
<path d="M110.3 499.3L77.7 577.3M110.3 499.3L164.6 655.3"/>
<path d="M392.6 499.3L360 577.3M392.6 499.3L446.8 655.3"/>
<path d="M566.3 499.3L533.7 577.3M566.3 499.3L620.6 655.3"/>
<path d="M848.6 499.3L816 577.3M848.6 499.3L902.8 655.3"/>
<path d="M1130.9 499.3L1098.2 577.3M1130.9 499.3L1185.1 655.3"/>
<path d="M1304.6 499.3L1271.9 577.3M1304.6 499.3L1358.8 655.3"/>
<path d="M1586.8 499.3L1554.2 577.3M1586.8 499.3L1641.1 655.3"/>
<path d="M1760.5 499.3L1727.9 577.3M1760.5 499.3L1814.8 655.3"/>
<path d="M2042.8 499.3L2010.2 577.3M2042.8 499.3L2097 655.3"/>
<path d="M2325.1 499.3L2292.5 577.3M2325.1 499.3L2379.3 655.3"/>
<path d="M2498.8 499.3L2466.2 577.3M2498.8 499.3L2553 655.3"/>
<path d="M2781 499.3L2748.4 577.3M2781 499.3L2835.3 655.3"/>
<path d="M3063.3 499.3L3030.7 577.3M3063.3 499.3L3117.5 655.3"/>
<path d="M77.7 577.3L56 655.3M77.7 577.3L110.3 733.3"/>
<path d="M251.4 577.3L229.7 655.3M251.4 577.3L284 733.3"/>
<path d="M360 577.3L338.3 655.3M360 577.3L392.6 733.3"/>
<path d="M533.7 577.3L512 655.3M533.7 577.3L566.3 733.3"/>
<path d="M707.4 577.3L685.7 655.3M707.4 577.3L740 733.3"/>
<path d="M816 577.3L794.3 655.3M816 577.3L848.6 733.3"/>
<path d="M989.7 577.3L968 655.3M989.7 577.3L1022.3 733.3"/>
<path d="M1098.2 577.3L1076.5 655.3M1098.2 577.3L1130.9 733.3"/>
<path d="M1271.9 577.3L1250.2 655.3M1271.9 577.3L1304.6 733.3"/>
<path d="M1445.6 577.3L1423.9 655.3M1445.6 577.3L1478.3 733.3"/>
<path d="M1554.2 577.3L1532.5 655.3M1554.2 577.3L1586.8 733.3"/>
<path d="M1727.9 577.3L1706.2 655.3M1727.9 577.3L1760.5 733.3"/>
<path d="M1901.6 577.3L1879.9 655.3M1901.6 577.3L1934.2 733.3"/>
<path d="M2010.2 577.3L1988.5 655.3M2010.2 577.3L2042.8 733.3"/>
<path d="M2183.9 577.3L2162.2 655.3M2183.9 577.3L2216.5 733.3"/>
<path d="M2292.5 577.3L2270.7 655.3M2292.5 577.3L2325.1 733.3"/>
<path d="M2466.2 577.3L2444.4 655.3M2466.2 577.3L2498.8 733.3"/>
<path d="M2639.9 577.3L2618.1 655.3M2639.9 577.3L2672.5 733.3"/>
<path d="M2748.4 577.3L2726.7 655.3M2748.4 577.3L2781 733.3"/>
<path d="M2922.1 577.3L2900.4 655.3M2922.1 577.3L2954.7 733.3"/>
<path d="M3030.7 577.3L3009 655.3M3030.7 577.3L3063.3 733.3"/>
<path d="M56 655.3L45.2 733.3M56 655.3L77.7 811.3"/>
<path d="M164.6 655.3L153.8 733.3M164.6 655.3L186.3 811.3"/>
<path d="M229.7 655.3L218.9 733.3M229.7 655.3L251.4 811.3"/>
<path d="M338.3 655.3L327.5 733.3M338.3 655.3L360 811.3"/>
<path d="M446.8 655.3L436 733.3M446.8 655.3L468.6 811.3"/>
<path d="M512 655.3L501.2 733.3M512 655.3L533.7 811.3"/>
<path d="M620.6 655.3L609.7 733.3M620.6 655.3L642.3 811.3"/>
<path d="M685.7 655.3L674.9 733.3M685.7 655.3L707.4 811.3"/>
<path d="M794.3 655.3L783.4 733.3M794.3 655.3L816 811.3"/>
<path d="M902.8 655.3L892 733.3M902.8 655.3L924.5 811.3"/>
<path d="M968 655.3L957.1 733.3M968 655.3L989.7 811.3"/>
<path d="M1076.5 655.3L1065.7 733.3M1076.5 655.3L1098.2 811.3"/>
<path d="M1185.1 655.3L1174.3 733.3M1185.1 655.3L1206.8 811.3"/>
<path d="M1250.2 655.3L1239.4 733.3M1250.2 655.3L1271.9 811.3"/>
<path d="M1358.8 655.3L1348 733.3M1358.8 655.3L1380.5 811.3"/>
<path d="M1423.9 655.3L1413.1 733.3M1423.9 655.3L1445.6 811.3"/>
<path d="M1532.5 655.3L1521.7 733.3M1532.5 655.3L1554.2 811.3"/>
<path d="M1641.1 655.3L1630.2 733.3M1641.1 655.3L1662.8 811.3"/>
<path d="M1706.2 655.3L1695.4 733.3M1706.2 655.3L1727.9 811.3"/>
<path d="M1814.8 655.3L1804 733.3M1814.8 655.3L1836.5 811.3"/>
<path d="M1879.9 655.3L1869.1 733.3M1879.9 655.3L1901.6 811.3"/>
<path d="M1988.5 655.3L1977.7 733.3M1988.5 655.3L2010.2 811.3"/>
<path d="M2097 655.3L2086.2 733.3M2097 655.3L2118.7 811.3"/>
<path d="M2162.2 655.3L2151.4 733.3M2162.2 655.3L2183.9 811.3"/>
<path d="M2270.7 655.3L2259.9 733.3M2270.7 655.3L2292.5 811.3"/>
<path d="M2379.3 655.3L2368.5 733.3M2379.3 655.3L2401 811.3"/>
<path d="M2444.4 655.3L2433.6 733.3M2444.4 655.3L2466.2 811.3"/>
<path d="M2553 655.3L2542.2 733.3M2553 655.3L2574.7 811.3"/>
<path d="M2618.1 655.3L2607.3 733.3M2618.1 655.3L2639.9 811.3"/>
<path d="M2726.7 655.3L2715.9 733.3M2726.7 655.3L2748.4 811.3"/>
<path d="M2835.3 655.3L2824.5 733.3M2835.3 655.3L2857 811.3"/>
<path d="M2900.4 655.3L2889.6 733.3M2900.4 655.3L2922.1 811.3"/>
<path d="M3009 655.3L2998.2 733.3M3009 655.3L3030.7 811.3"/>
<path d="M3117.5 655.3L3106.7 733.3M3117.5 655.3L3139.3 811.3"/>
<path d="M45.2 733.3L34.3 811.3M45.2 733.3L56 889.3"/>
<path d="M110.3 733.3L99.4 811.3M110.3 733.3L121.2 889.3"/>
<path d="M153.8 733.3L142.9 811.3M153.8 733.3L164.6 889.3"/>
<path d="M218.9 733.3L208 811.3M218.9 733.3L229.7 889.3"/>
<path d="M284 733.3L273.1 811.3M284 733.3L294.9 889.3"/>
<path d="M327.5 733.3L316.6 811.3M327.5 733.3L338.3 889.3"/>
<path d="M392.6 733.3L381.7 811.3M392.6 733.3L403.4 889.3"/>
<path d="M436 733.3L425.1 811.3M436 733.3L446.8 889.3"/>
<path d="M501.2 733.3L490.3 811.3M501.2 733.3L512 889.3"/>
<path d="M566.3 733.3L555.4 811.3M566.3 733.3L577.1 889.3"/>
<path d="M609.7 733.3L598.8 811.3M609.7 733.3L620.6 889.3"/>
<path d="M674.9 733.3L664 811.3M674.9 733.3L685.7 889.3"/>
<path d="M740 733.3L729.1 811.3M740 733.3L750.8 889.3"/>
<path d="M783.4 733.3L772.5 811.3M783.4 733.3L794.3 889.3"/>
<path d="M848.6 733.3L837.7 811.3M848.6 733.3L859.4 889.3"/>
<path d="M892 733.3L881.1 811.3M892 733.3L902.8 889.3"/>
<path d="M957.1 733.3L946.2 811.3M957.1 733.3L968 889.3"/>
<path d="M1022.3 733.3L1011.4 811.3M1022.3 733.3L1033.1 889.3"/>
<path d="M1065.7 733.3L1054.8 811.3M1065.7 733.3L1076.5 889.3"/>
<path d="M1130.9 733.3L1120 811.3M1130.9 733.3L1141.7 889.3"/>
<path d="M1174.3 733.3L1163.4 811.3M1174.3 733.3L1185.1 889.3"/>
<path d="M1239.4 733.3L1228.5 811.3M1239.4 733.3L1250.2 889.3"/>
<path d="M1304.6 733.3L1293.7 811.3M1304.6 733.3L1315.4 889.3"/>
<path d="M1348 733.3L1337.1 811.3M1348 733.3L1358.8 889.3"/>
<path d="M1413.1 733.3L1402.2 811.3M1413.1 733.3L1423.9 889.3"/>
<path d="M1478.3 733.3L1467.4 811.3M1478.3 733.3L1489.1 889.3"/>
<path d="M1521.7 733.3L1510.8 811.3M1521.7 733.3L1532.5 889.3"/>
<path d="M1586.8 733.3L1575.9 811.3M1586.8 733.3L1597.6 889.3"/>
<path d="M1630.2 733.3L1619.3 811.3M1630.2 733.3L1641.1 889.3"/>
<path d="M1695.4 733.3L1684.5 811.3M1695.4 733.3L1706.2 889.3"/>
<path d="M1760.5 733.3L1749.6 811.3M1760.5 733.3L1771.3 889.3"/>
<path d="M1804 733.3L1793.1 811.3M1804 733.3L1814.8 889.3"/>
<path d="M1869.1 733.3L1858.2 811.3M1869.1 733.3L1879.9 889.3"/>
<path d="M1934.2 733.3L1923.3 811.3M1934.2 733.3L1945 889.3"/>
<path d="M1977.7 733.3L1966.8 811.3M1977.7 733.3L1988.5 889.3"/>
<path d="M2042.8 733.3L2031.9 811.3M2042.8 733.3L2053.6 889.3"/>
<path d="M2086.2 733.3L2075.3 811.3M2086.2 733.3L2097 889.3"/>
<path d="M2151.4 733.3L2140.5 811.3M2151.4 733.3L2162.2 889.3"/>
<path d="M2216.5 733.3L2205.6 811.3M2216.5 733.3L2227.3 889.3"/>
<path d="M2259.9 733.3L2249 811.3M2259.9 733.3L2270.7 889.3"/>
<path d="M2325.1 733.3L2314.2 811.3M2325.1 733.3L2335.9 889.3"/>
<path d="M2368.5 733.3L2357.6 811.3M2368.5 733.3L2379.3 889.3"/>
<path d="M2433.6 733.3L2422.7 811.3M2433.6 733.3L2444.4 889.3"/>
<path d="M2498.8 733.3L2487.9 811.3M2498.8 733.3L2509.6 889.3"/>
<path d="M2542.2 733.3L2531.3 811.3M2542.2 733.3L2553 889.3"/>
<path d="M2607.3 733.3L2596.4 811.3M2607.3 733.3L2618.1 889.3"/>
<path d="M2672.5 733.3L2661.6 811.3M2672.5 733.3L2683.3 889.3"/>
<path d="M2715.9 733.3L2705 811.3M2715.9 733.3L2726.7 889.3"/>
<path d="M2781 733.3L2770.1 811.3M2781 733.3L2791.9 889.3"/>
<path d="M2824.5 733.3L2813.6 811.3M2824.5 733.3L2835.3 889.3"/>
<path d="M2889.6 733.3L2878.7 811.3M2889.6 733.3L2900.4 889.3"/>
<path d="M2954.7 733.3L2943.8 811.3M2954.7 733.3L2965.6 889.3"/>
<path d="M2998.2 733.3L2987.3 811.3M2998.2 733.3L3009 889.3"/>
<path d="M3063.3 733.3L3052.4 811.3M3063.3 733.3L3074.1 889.3"/>
<path d="M3106.7 733.3L3095.8 811.3M3106.7 733.3L3117.5 889.3"/>
<path d="M34.3 811.3V889.3M77.7 811.3V889.3M99.4 811.3V889.3M142.9 811.3V889.3M186.3 811.3V889.3M208 811.3V889.3M251.4 811.3V889.3M273.1 811.3V889.3M316.6 811.3V889.3M360 811.3V889.3M381.7 811.3V889.3M425.1 811.3V889.3M468.6 811.3V889.3M490.3 811.3V889.3M533.7 811.3V889.3M555.4 811.3V889.3"/>
<path d="M598.8 811.3V889.3M642.3 811.3V889.3M664 811.3V889.3M707.4 811.3V889.3M729.1 811.3V889.3M772.5 811.3V889.3M816 811.3V889.3M837.7 811.3V889.3M881.1 811.3V889.3M924.5 811.3V889.3M946.2 811.3V889.3M989.7 811.3V889.3M1011.4 811.3V889.3M1054.8 811.3V889.3M1098.2 811.3V889.3"/>
<path d="M1120 811.3V889.3M1163.4 811.3V889.3M1206.8 811.3V889.3M1228.5 811.3V889.3M1271.9 811.3V889.3M1293.7 811.3V889.3M1337.1 811.3V889.3M1380.5 811.3V889.3M1402.2 811.3V889.3M1445.6 811.3V889.3M1467.4 811.3V889.3M1510.8 811.3V889.3M1554.2 811.3V889.3"/>
<path d="M1575.9 811.3V889.3M1619.3 811.3V889.3M1662.8 811.3V889.3M1684.5 811.3V889.3M1727.9 811.3V889.3M1749.6 811.3V889.3M1793.1 811.3V889.3M1836.5 811.3V889.3M1858.2 811.3V889.3M1901.6 811.3V889.3M1923.3 811.3V889.3M1966.8 811.3V889.3M2010.2 811.3V889.3"/>
<path d="M2031.9 811.3V889.3M2075.3 811.3V889.3M2118.7 811.3V889.3M2140.5 811.3V889.3M2183.9 811.3V889.3M2205.6 811.3V889.3M2249 811.3V889.3M2292.5 811.3V889.3M2314.2 811.3V889.3M2357.6 811.3V889.3M2401 811.3V889.3M2422.7 811.3V889.3M2466.2 811.3V889.3"/>
<path d="M2487.9 811.3V889.3M2531.3 811.3V889.3M2574.7 811.3V889.3M2596.4 811.3V889.3M2639.9 811.3V889.3M2661.6 811.3V889.3M2705 811.3V889.3M2748.4 811.3V889.3M2770.1 811.3V889.3M2813.6 811.3V889.3M2857 811.3V889.3M2878.7 811.3V889.3M2922.1 811.3V889.3"/>
<path d="M2943.8 811.3V889.3M2987.3 811.3V889.3M3030.7 811.3V889.3M3052.4 811.3V889.3M3095.8 811.3V889.3M3139.3 811.3V889.3"/>
</g>
</svg>
